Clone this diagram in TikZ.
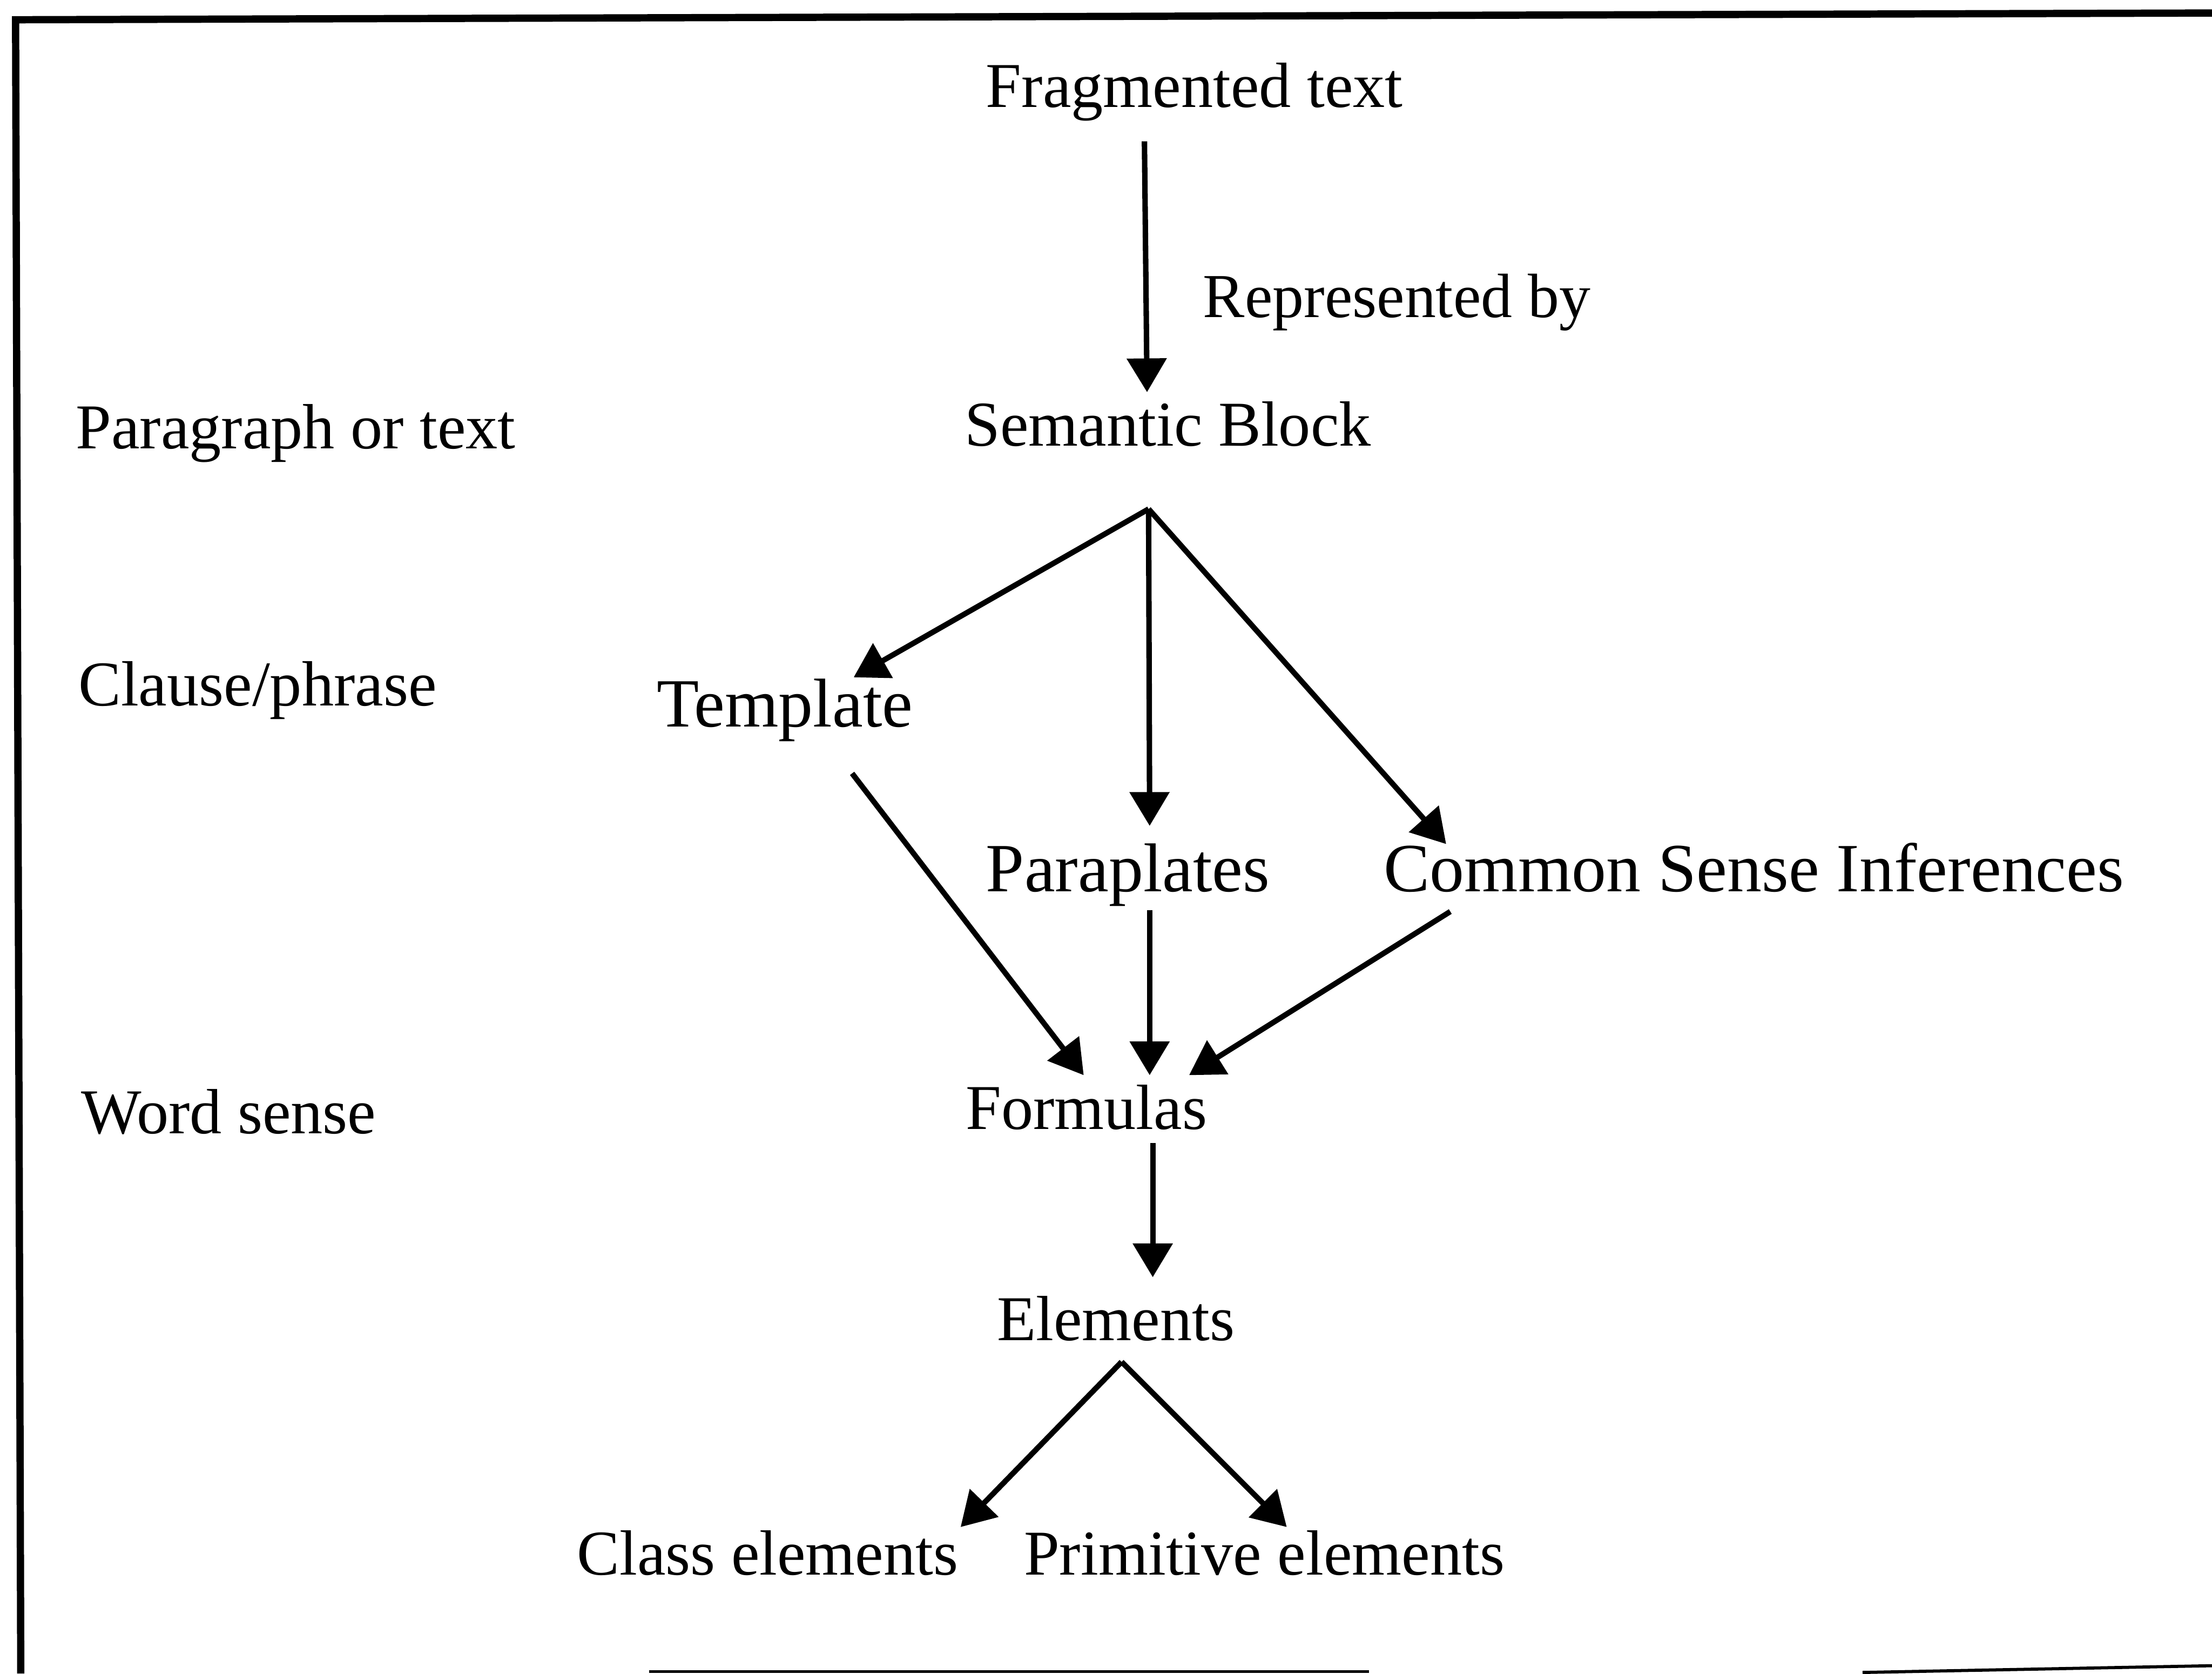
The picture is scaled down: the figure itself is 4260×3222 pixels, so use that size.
\documentclass[tikz,border=0pt]{standalone}
\usepackage{fontspec}
\setmainfont{Liberation Serif}
\usetikzlibrary{arrows.meta}
\begin{document}
\begin{tikzpicture}[x=0.1pt,y=-0.1pt,
  lbl/.style={anchor=base west,inner sep=0pt,font=\fontsize{12.3}{14}\selectfont},
  big/.style={anchor=base west,inner sep=0pt,font=\fontsize{13.3}{15}\selectfont},
  small/.style={anchor=base west,inner sep=0pt,font=\fontsize{12.05}{14}\selectfont},
  arr/.style={line width=1.05pt,-{Triangle[length=6.5pt,width=7.5pt]}},
  frame/.style={line width=1.4pt}]
\useasboundingbox (0,0) rectangle (4260,3222);
% frame
\coordinate (ftl) at (30,38);
\coordinate (ftr) at (4260,25);
\coordinate (fbl) at (40,3222);
\draw[frame] (fbl) -- (ftl) -- (ftr);
\coordinate (fb1) at (1250,3218);
\coordinate (fb2) at (2636,3218);
\coordinate (fb3) at (3587,3220);
\coordinate (fb4) at (4260,3207);
\draw[line width=0.5pt] (fb1) -- (fb2);
\draw[line width=0.6pt] (fb3) -- (fb4);
% text nodes
\node[lbl] (frag) at (1897,206) {Fragmented text};
\node[small] (rep) at (2315,611) {Represented by};
\node[lbl] (para) at (144,864) {Paragraph or text};
\node[lbl] (sb) at (1856,859) {Semantic Block};
\node[lbl] (cl) at (149,1359) {Clause/phrase};
\node[big] (tpl) at (1263,1399) {Template};
\node[big] (pp) at (1897,1717) {Paraplates};
\node[big] (csi) at (2663,1717) {Common Sense Inferences};
\node[lbl] (ws) at (155,2182) {Word sense};
\node[lbl] (fm) at (1858,2174) {Formulas};
\node[lbl] (el) at (1918,2581) {Elements};
\node[lbl] (ce) at (1109,3032) {Class elements};
\node[lbl] (pe) at (1970,3032) {Primitive elements};
% connector points
\coordinate (fragout) at (2204,272);
\coordinate (sbin) at (2209,755);
\coordinate (sbfork) at (2212,980);
\coordinate (tplin) at (1644,1304);
\coordinate (ppin) at (2214,1590);
\coordinate (csiin) at (2785,1625);
\coordinate (tplout) at (1641,1489);
\coordinate (ppout) at (2214,1752);
\coordinate (csiout) at (2793,1755);
\coordinate (fmin1) at (2087,2070);
\coordinate (fmin2) at (2214,2070);
\coordinate (fmin3) at (2290,2070);
\coordinate (fmout) at (2220,2201);
\coordinate (elin) at (2220,2459);
\coordinate (elfork) at (2160,2622);
\coordinate (cein) at (1850,2940);
\coordinate (pein) at (2478,2940);
% connectors
\draw[arr] (fragout) -- (sbin);
\draw[arr] (sbfork) -- (tplin);
\draw[arr] (sbfork) -- (ppin);
\draw[arr] (sbfork) -- (csiin);
\draw[arr] (tplout) -- (fmin1);
\draw[arr] (ppout) -- (fmin2);
\draw[arr] (csiout) -- (fmin3);
\draw[arr] (fmout) -- (elin);
\draw[arr] (elfork) -- (cein);
\draw[arr] (elfork) -- (pein);
\end{tikzpicture}
\end{document}
